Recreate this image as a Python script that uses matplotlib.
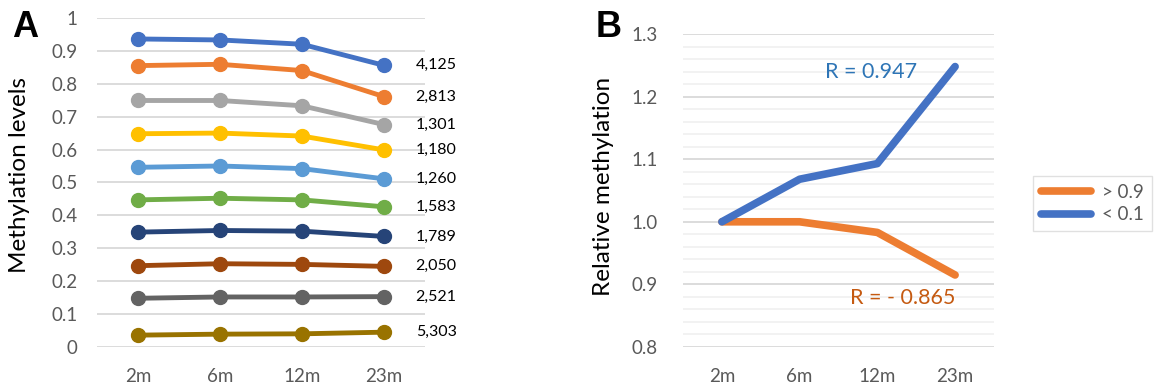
import matplotlib
matplotlib.use('Agg')
import matplotlib.pyplot as plt
from matplotlib.ticker import MultipleLocator

plt.rcParams['font.family'] = ['Lato', 'DejaVu Sans']

# 各组甲基化水平（按年龄）
ages = ['2m', '6m', '12m', '23m']
levels = [
    [0.936, 0.933, 0.920, 0.856],
    [0.855, 0.859, 0.840, 0.761],
    [0.749, 0.749, 0.733, 0.676],
    [0.648, 0.650, 0.641, 0.599],
    [0.546, 0.550, 0.542, 0.511],
    [0.447, 0.452, 0.447, 0.426],
    [0.349, 0.354, 0.352, 0.336],
    [0.247, 0.253, 0.251, 0.245],
    [0.148, 0.152, 0.152, 0.153],
    [0.036, 0.039, 0.040, 0.045],
]
counts = ['4,125', '2,813', '1,301', '1,180', '1,260', '1,583', '1,789', '2,050', '2,521', '5,303']
level_colors = ['#4472C4', '#ED7D31', '#A5A5A5', '#FFC000', '#5B9BD5',
                '#70AD47', '#264478', '#9E480E', '#636363', '#997300']

# 相对甲基化
rel_high = [1.000, 1.000, 0.983, 0.915]   # > 0.9
rel_low = [1.000, 1.068, 1.093, 1.248]    # < 0.1
r_high = '- 0.865'
r_low = '0.947'

tick_color = '#595959'
grid_color = '#D9D9D9'

fig = plt.figure(figsize=(11.62, 3.89), dpi=100)

# ---- A ----
ax1 = fig.add_axes([0.0835, 0.108, 0.282, 0.846])
x = range(len(ages))
for vals, c in zip(levels, level_colors):
    ax1.plot(x, vals, color=c, lw=3.5, marker='o', ms=10, solid_capstyle='round')
for vals, n in zip(levels, counts):
    ax1.text(3.39, vals[-1], n, ha='left', va='center', fontsize=11.5, color='black')
ax1.set_xlim(-0.5, 3.5)
ax1.set_ylim(0, 1)
ax1.set_yticks([i / 10 for i in range(11)])
ax1.set_yticklabels(['0', '0.1', '0.2', '0.3', '0.4', '0.5', '0.6', '0.7', '0.8', '0.9', '1'])
ax1.set_xticks(list(x))
ax1.set_xticklabels(ages)
ax1.grid(axis='y', color=grid_color, lw=1.3)
ax1.set_axisbelow(True)
for s in ax1.spines.values():
    s.set_visible(False)
ax1.tick_params(length=0, labelsize=13.5, labelcolor=tick_color)
ax1.tick_params(axis='y', pad=14)
ax1.tick_params(axis='x', pad=15)
fig.text(0.017, 0.55, 'Methylation levels', rotation=90, ha='center', va='center', fontsize=17.5)
fig.text(0.010, 0.905, 'A', fontsize=26, fontweight='bold', family='Liberation Sans')

# ---- B ----
ax2 = fig.add_axes([0.5878, 0.108, 0.2676, 0.8046])
ax2.plot(x, rel_high, color='#ED7D31', lw=5.5, solid_capstyle='round', label='> 0.9')
ax2.plot(x, rel_low, color='#4472C4', lw=5.5, solid_capstyle='round', label='< 0.1')
ax2.text(1.92, 1.239, 'R = ' + r_low, ha='center', va='center', fontsize=15.5, color='#2E75B6')
ax2.text(2.32, 0.878, 'R = ' + r_high, ha='center', va='center', fontsize=15.5, color='#C55A11')
ax2.set_xlim(-0.5, 3.5)
ax2.set_ylim(0.8, 1.3)
ax2.yaxis.set_major_locator(MultipleLocator(0.1))
ax2.yaxis.set_minor_locator(MultipleLocator(0.02))
ax2.yaxis.set_major_formatter(matplotlib.ticker.FormatStrFormatter('%.1f'))
ax2.set_xticks(list(x))
ax2.set_xticklabels(ages)
ax2.grid(axis='y', which='major', color=grid_color, lw=1.3)
ax2.grid(axis='y', which='minor', color='#EFEFEF', lw=1.1)
ax2.set_axisbelow(True)
for s in ax2.spines.values():
    s.set_visible(False)
ax2.tick_params(which='both', length=0, labelsize=13.5, labelcolor=tick_color)
ax2.tick_params(axis='y', pad=18)
ax2.tick_params(axis='x', pad=15)
fig.text(0.519, 0.52, 'Relative methylation', rotation=90, ha='center', va='center', fontsize=17.5)
fig.text(0.513, 0.905, 'B', fontsize=26, fontweight='bold', family='Liberation Sans')

handles, labels = ax2.get_legend_handles_labels()
leg = fig.legend(handles, labels, loc='upper left', bbox_to_anchor=(0.881, 0.571),
                 frameon=True, fancybox=False, fontsize=13.5, handlelength=2.7,
                 handletextpad=0.6, borderpad=0.4, labelspacing=0.3)
leg.get_frame().set_edgecolor(grid_color)
for t in leg.get_texts():
    t.set_color(tick_color)

fig.savefig('out.png', dpi=100)
